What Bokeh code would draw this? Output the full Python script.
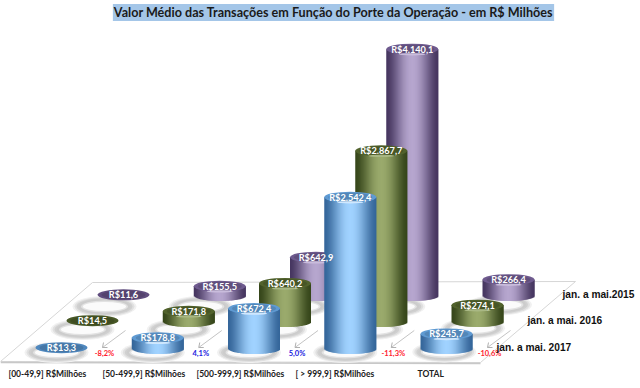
from bokeh.plotting import figure
from bokeh.models import Range1d, Label
from bokeh.core.properties import value
from bokeh.embed import file_html
from bokeh.resources import INLINE
import math

title = "Valor Médio das Transações em Função do Porte da Operação - em R$ Milhões"
categories = ["[00-49,9] R$Milhões", "[50-499,9] R$Milhões", "[500-999,9] R$Milhões", "[ > 999,9] R$Milhões", "TOTAL"]
series_names = ["jan. a mai.2015", "jan. a mai. 2016", "jan. a mai. 2017"]
v2015 = [11.6, 155.5, 642.9, 4140.1, 266.4]
v2016 = [14.5, 171.8, 640.2, 2867.7, 274.1]
v2017 = [13.3, 178.8, 672.4, 2542.4, 245.7]
lab2015 = ["R$11,6", "R$155,5", "R$642,9", "R$4.140,1", "R$266,4"]
lab2016 = ["R$14,5", "R$171,8", "R$640,2", "R$2.867,7", "R$274,1"]
lab2017 = ["R$13,3", "R$178,8", "R$672,4", "R$2.542,4", "R$245,7"]
variation = ["-8,2%", "4,1%", "5,0%", "-11,3%", "-10,6%"]
var_colors = ["#ff1a2e", "#2020e0", "#2020e0", "#ff1a2e", "#ff1a2e"]

# Layout of the pseudo-3D floor, in picture pixels
SCALE = 0.0595
STEP = 96.25
RX, RY = 26, 5.5
rows = [
    dict(vals=v2015, labs=lab2015, x0=123, base=295, dark="#463660", mid="#b6a6ce", cap="#6e5a8e", hi="#c9bcdc",
         sx=-19, sy=11, lx=562, ly=294),
    dict(vals=v2016, labs=lab2016, x0=92, base=321, dark="#36461a", mid="#9aaa6c", cap="#51622c", hi="#a9b884",
         sx=-10, sy=8, lx=527, ly=320),
    dict(vals=v2017, labs=lab2017, x0=61, base=348, dark="#35669a", mid="#a0d2ff", cap="#5f9ad2", hi="#cfe8ff",
         sx=-5, sy=4, lx=496, ly=347),
]


def mix(a, b, t):
    ca = [int(a[i:i + 2], 16) for i in (1, 3, 5)]
    cb = [int(b[i:i + 2], 16) for i in (1, 3, 5)]
    return "#%02x%02x%02x" % tuple(round(x + (y - x) * t) for x, y in zip(ca, cb))


p = figure(width=640, height=388, output_backend="svg", toolbar_location=None,
           x_range=Range1d(0, 640), y_range=Range1d(388, 0), min_border=0)
p.axis.visible = False
p.grid.visible = False
p.outline_line_color = None
p.background_fill_color = "#ffffff"

# Floor outline
fx = [0, 92, 575, 480, 0]
fy = [361, 282, 281, 362, 361]
p.line(fx, fy, line_color="#d6d6d6", line_width=1)
p.line([0, 480], [362, 363], line_color="#c8c8c8", line_width=1.5)

# Ring shadows on the floor
for r in rows:
    for i in range(5):
        cx = r["x0"] + STEP * i + r["sx"] * (0.45 if i == 4 else 1)
        cy = r["base"] + r["sy"] * (0.85 if i == 4 else 1)
        for k, (w, h, col) in enumerate([(64, 21, "#f1f1f1"), (60, 19, "#e0e0e0"), (56, 17, "#d0d0d0"),
                                          (52, 14.5, "#cccccc"), (47, 12, "#e2e2e2"), (43, 9, "#fbfbfb")]):
            p.ellipse([cx], [cy], width=w, height=h, fill_color=col, line_color=None)

# Pointers to the variation labels
for i in range(5):
    x1 = 125 + STEP * i
    x2 = 102 + STEP * i
    p.line([x1, x2], [330, 347], line_color="#c4c4c4", line_width=1)
    p.line([x2 + 5, x2, x2 + 1], [347, 347, 342], line_color="#b0b0b0", line_width=1)

# Cylinders, back row first
N = 52
for r in rows:
    for i, v in enumerate(r["vals"]):
        cx = r["x0"] + STEP * i
        top = r["base"] - v * SCALE
        flat = v * SCALE <= 2
        l, rr, tops, bots, cols = [], [], [], [], []
        for s in range(N):
            a = cx - RX + 2 * RX * s / N
            b = cx - RX + 2 * RX * (s + 1) / N
            u = ((a + b) / 2 - cx) / RX
            l.append(a)
            rr.append(b + (1.0 if s < N - 1 else 0))
            tops.append(top)
            bots.append(r["base"] + RY * math.sqrt(max(0, 1 - u * u)))
            cols.append(mix(r["dark"], r["mid"], math.cos(u * math.pi / 2) ** 1.6))
        if not flat:
            p.quad(left=l, right=rr, top=tops, bottom=bots, fill_color=cols, line_color=None)
        cap = mix(r["cap"], r["dark"], 0.35) if flat else r["cap"]
        p.ellipse([cx], [top], width=2 * RX, height=2 * RY, fill_color=cap, line_color=None)
        if not flat:
            p.ellipse([cx], [top + RY - 0.5], width=RX, height=2.5, fill_color=r["hi"], line_color=None)
        p.ellipse([cx], [top], width=2 * RX - 8, height=2 * RY - 2, fill_color="#000000", fill_alpha=0.12,
                  line_color=None)

# Value labels on the caps
for r in rows:
    xs = [r["x0"] + STEP * i for i in range(5)]
    ys = [r["base"] - v * SCALE for v in r["vals"]]
    p.text(xs, ys, text=r["labs"], text_color="#ffffff", text_font=value("Lato"), text_font_style="bold",
           text_font_size="9.2px", text_align="center", text_baseline="middle")

# Variation labels
p.text([104 + STEP * i for i in range(5)], [353] * 5, text=variation, text_color=var_colors,
       text_font=value("Lato"), text_font_size="7.5px", text_font_style="bold",
       text_align="center", text_baseline="middle")

# Category labels
cat_x = [8, 102, 196, 295, 417]
p.text(cat_x, [373] * 5, text=categories, text_color="#202020", text_font=value("Lato"),
       text_font_size="8.5px", text_font_style="bold", text_align="left", text_baseline="middle")

# Series labels
p.text([r["lx"] for r in rows], [r["ly"] for r in rows], text=series_names, text_color="#111111",
       text_font=value("Liberation Sans"), text_font_style="bold", text_font_size="10.2px",
       text_align="left", text_baseline="middle")

p.add_layout(Label(x=333, y=12, text=title, text_align="center", text_baseline="middle",
                   text_font="Lato", text_font_style="bold", text_font_size="12.6px", text_color="#1a1a1a",
                   background_fill_color="#a4c6e8", padding=1))

open("out.html", "w").write(file_html(p, INLINE))
